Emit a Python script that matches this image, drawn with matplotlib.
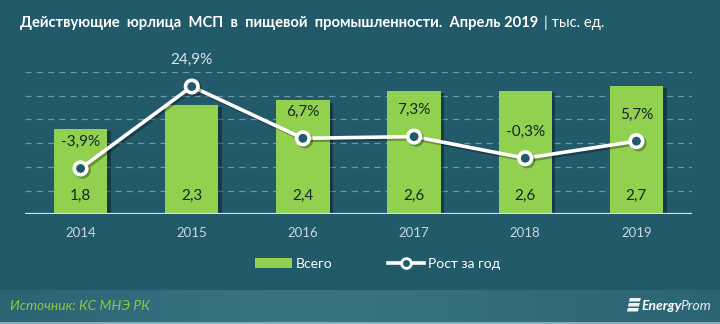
import matplotlib
matplotlib.use("Agg")
import matplotlib.pyplot as plt
import matplotlib.patheffects as pe
import numpy as np
from matplotlib.lines import Line2D
from matplotlib.patches import Patch, Rectangle, Polygon

years = ["2014", "2015", "2016", "2017", "2018", "2019"]
total = [1.8, 2.3, 2.4, 2.6, 2.6, 2.7]
growth = [-3.9, 24.9, 6.7, 7.3, -0.3, 5.7]
total_labels = ["1,8", "2,3", "2,4", "2,6", "2,6", "2,7"]
growth_labels = ["-3,9%", "24,9%", "6,7%", "7,3%", "-0,3%", "5,7%"]

BG = "#225a69"
GREEN = "#92d050"
DARK = "#14262a"
LIGHT = "#d8e6ea"

plt.rcParams['font.family'] = ['Lato', 'DejaVu Sans']

fig = plt.figure(figsize=(7.2, 3.24), dpi=100)
fig.patch.set_facecolor(BG)

# footer band with soft horizontal gradient
fax = fig.add_axes([0, 0, 1, 34/324], zorder=-5)
grad = np.array([0.0, 0.6, 1.0, 0.8, 0.4, 0.1])
xs = np.linspace(0, 1, 200)
vals = np.interp(xs, np.linspace(0, 1, len(grad)), grad)
c0 = np.array([0x2a, 0x63, 0x72]) / 255
c1 = np.array([0x38, 0x74, 0x84]) / 255
img = (c0[None, :] + (c1 - c0)[None, :] * vals[:, None])[None, :, :]
fax.imshow(img, aspect='auto', extent=(0, 1, 0, 1))
fax.axhline(0.03, color="#7fb0be", lw=1.5)
fax.set_axis_off()

ax = fig.add_axes([25/720, 1 - 214.3/324, 667/720, (214.3 - 72)/324])
ax.set_facecolor('none')
x = list(range(len(years)))

bars = ax.bar(x, total, width=0.48, color=GREEN, zorder=3)
for b in bars:
    b.set_path_effects([pe.SimplePatchShadow(offset=(2.5, -1.5), alpha=0.35, shadow_rgbFace='black'), pe.Normal()])

ax.set_xlim(-0.5, 5.5)
ax.set_ylim(0, 3.0)
for v in [0.5, 1.0, 1.5, 2.0, 2.5, 3.0]:
    ax.axhline(v, color="#6799a9", lw=0.9, ls=(0, (5, 4)), zorder=1)
ax.axhline(0, color="#cfe3e8", lw=1.6, zorder=4)
for s in ax.spines.values():
    s.set_visible(False)
ax.set_yticks([])
ax.set_xticks(x)
ax.set_xticklabels(years, color="#c8d8dc", fontsize=9.5)
ax.tick_params(axis='x', length=0, pad=9)

for xi, lab in zip(x, total_labels):
    ax.text(xi, 0.38, lab, ha='center', va='center', fontsize=11, color=DARK, zorder=5)

ax2 = ax.twinx()
ax2.set_ylim(-20, 30)
ax2.set_yticks([])
for s in ax2.spines.values():
    s.set_visible(False)
ax2.plot(x, growth, color='white', lw=2.6, marker='o', markersize=9,
         markerfacecolor=BG, markeredgecolor='white', markeredgewidth=2.6, zorder=6,
         path_effects=[pe.SimpleLineShadow(offset=(1.5, -1.5), alpha=0.3), pe.Normal()])
for xi, g, lab in zip(x, growth, growth_labels):
    ax2.annotate(lab, (xi, g), xytext=(0, 19), textcoords='offset points',
                 ha='center', va='center', fontsize=11, color=DARK, zorder=7,
                 annotation_clip=False)
# recolor labels that sit above the bars
fig.canvas.draw()
for t, tot in zip(list(ax2.texts), total):
    bb = t.get_window_extent()
    bar_top_px = ax.transData.transform((0, tot))[1]
    if bb.y0 > bar_top_px:
        t.set_color(LIGHT)

# title
r = fig.canvas.get_renderer()
t1 = fig.text(20/720, 1 - 23/324, "Действующие  юрлица  МСП  в  пищевой  промышленности.  Апрель 2019",
              color='white', fontsize=10.6, fontweight='bold', va='center', ha='left')
bb = t1.get_window_extent(renderer=r)
fig.text((bb.x1 + 6) / 720, 1 - 23/324, "| тыс. ед.", color='white', fontsize=10.6,
         va='center', ha='left')

# legend
handles = [Patch(facecolor=GREEN, edgecolor='none', label="Всего"),
           Line2D([0], [0], color='white', lw=2.6, marker='o', markersize=7,
                  markerfacecolor=BG, markeredgecolor='white', markeredgewidth=2,
                  label="Рост за год")]
fig.legend(handles=handles, loc='center', bbox_to_anchor=(378/720, 1 - 264/324), ncol=2,
           frameon=False, fontsize=10, labelcolor='white', columnspacing=4,
           handlelength=2.6, handletextpad=0.3)

# footer texts
fig.text(10/720, 1 - 306/324, "Источник: КС МНЭ РК", color="#8cc63f", fontsize=10,
         style='italic', va='center', ha='left')
tp = fig.text(711/720, 1 - 306/324, "Prom", color='#e8f0f2', fontsize=10,
              style='italic', va='center', ha='right')
bbp = tp.get_window_extent(renderer=r)
te = fig.text((bbp.x0 + 2) / 720, 1 - 306/324, "Energy", color='white', fontsize=10,
              fontweight='bold', style='italic', va='center', ha='right')
bbe = te.get_window_extent(renderer=r)
# small logo mark: three slanted stripes
lx = bbe.x0 - 15
for i, yy in enumerate([300, 305, 310]):
    y0 = 324 - yy
    pts = [(lx + 3 - i * 1, y0 + 2), (lx + 14 - i * 1, y0 + 2), (lx + 13 - i * 1, y0 - 1.5), (lx + 2 - i * 1, y0 - 1.5)]
    fig.patches.append(Polygon([(px / 720, py / 324) for px, py in pts], closed=True,
                               transform=fig.transFigure, facecolor='#eef4f5', edgecolor='none'))

fig.savefig("out.png", dpi=100, facecolor=fig.get_facecolor())
